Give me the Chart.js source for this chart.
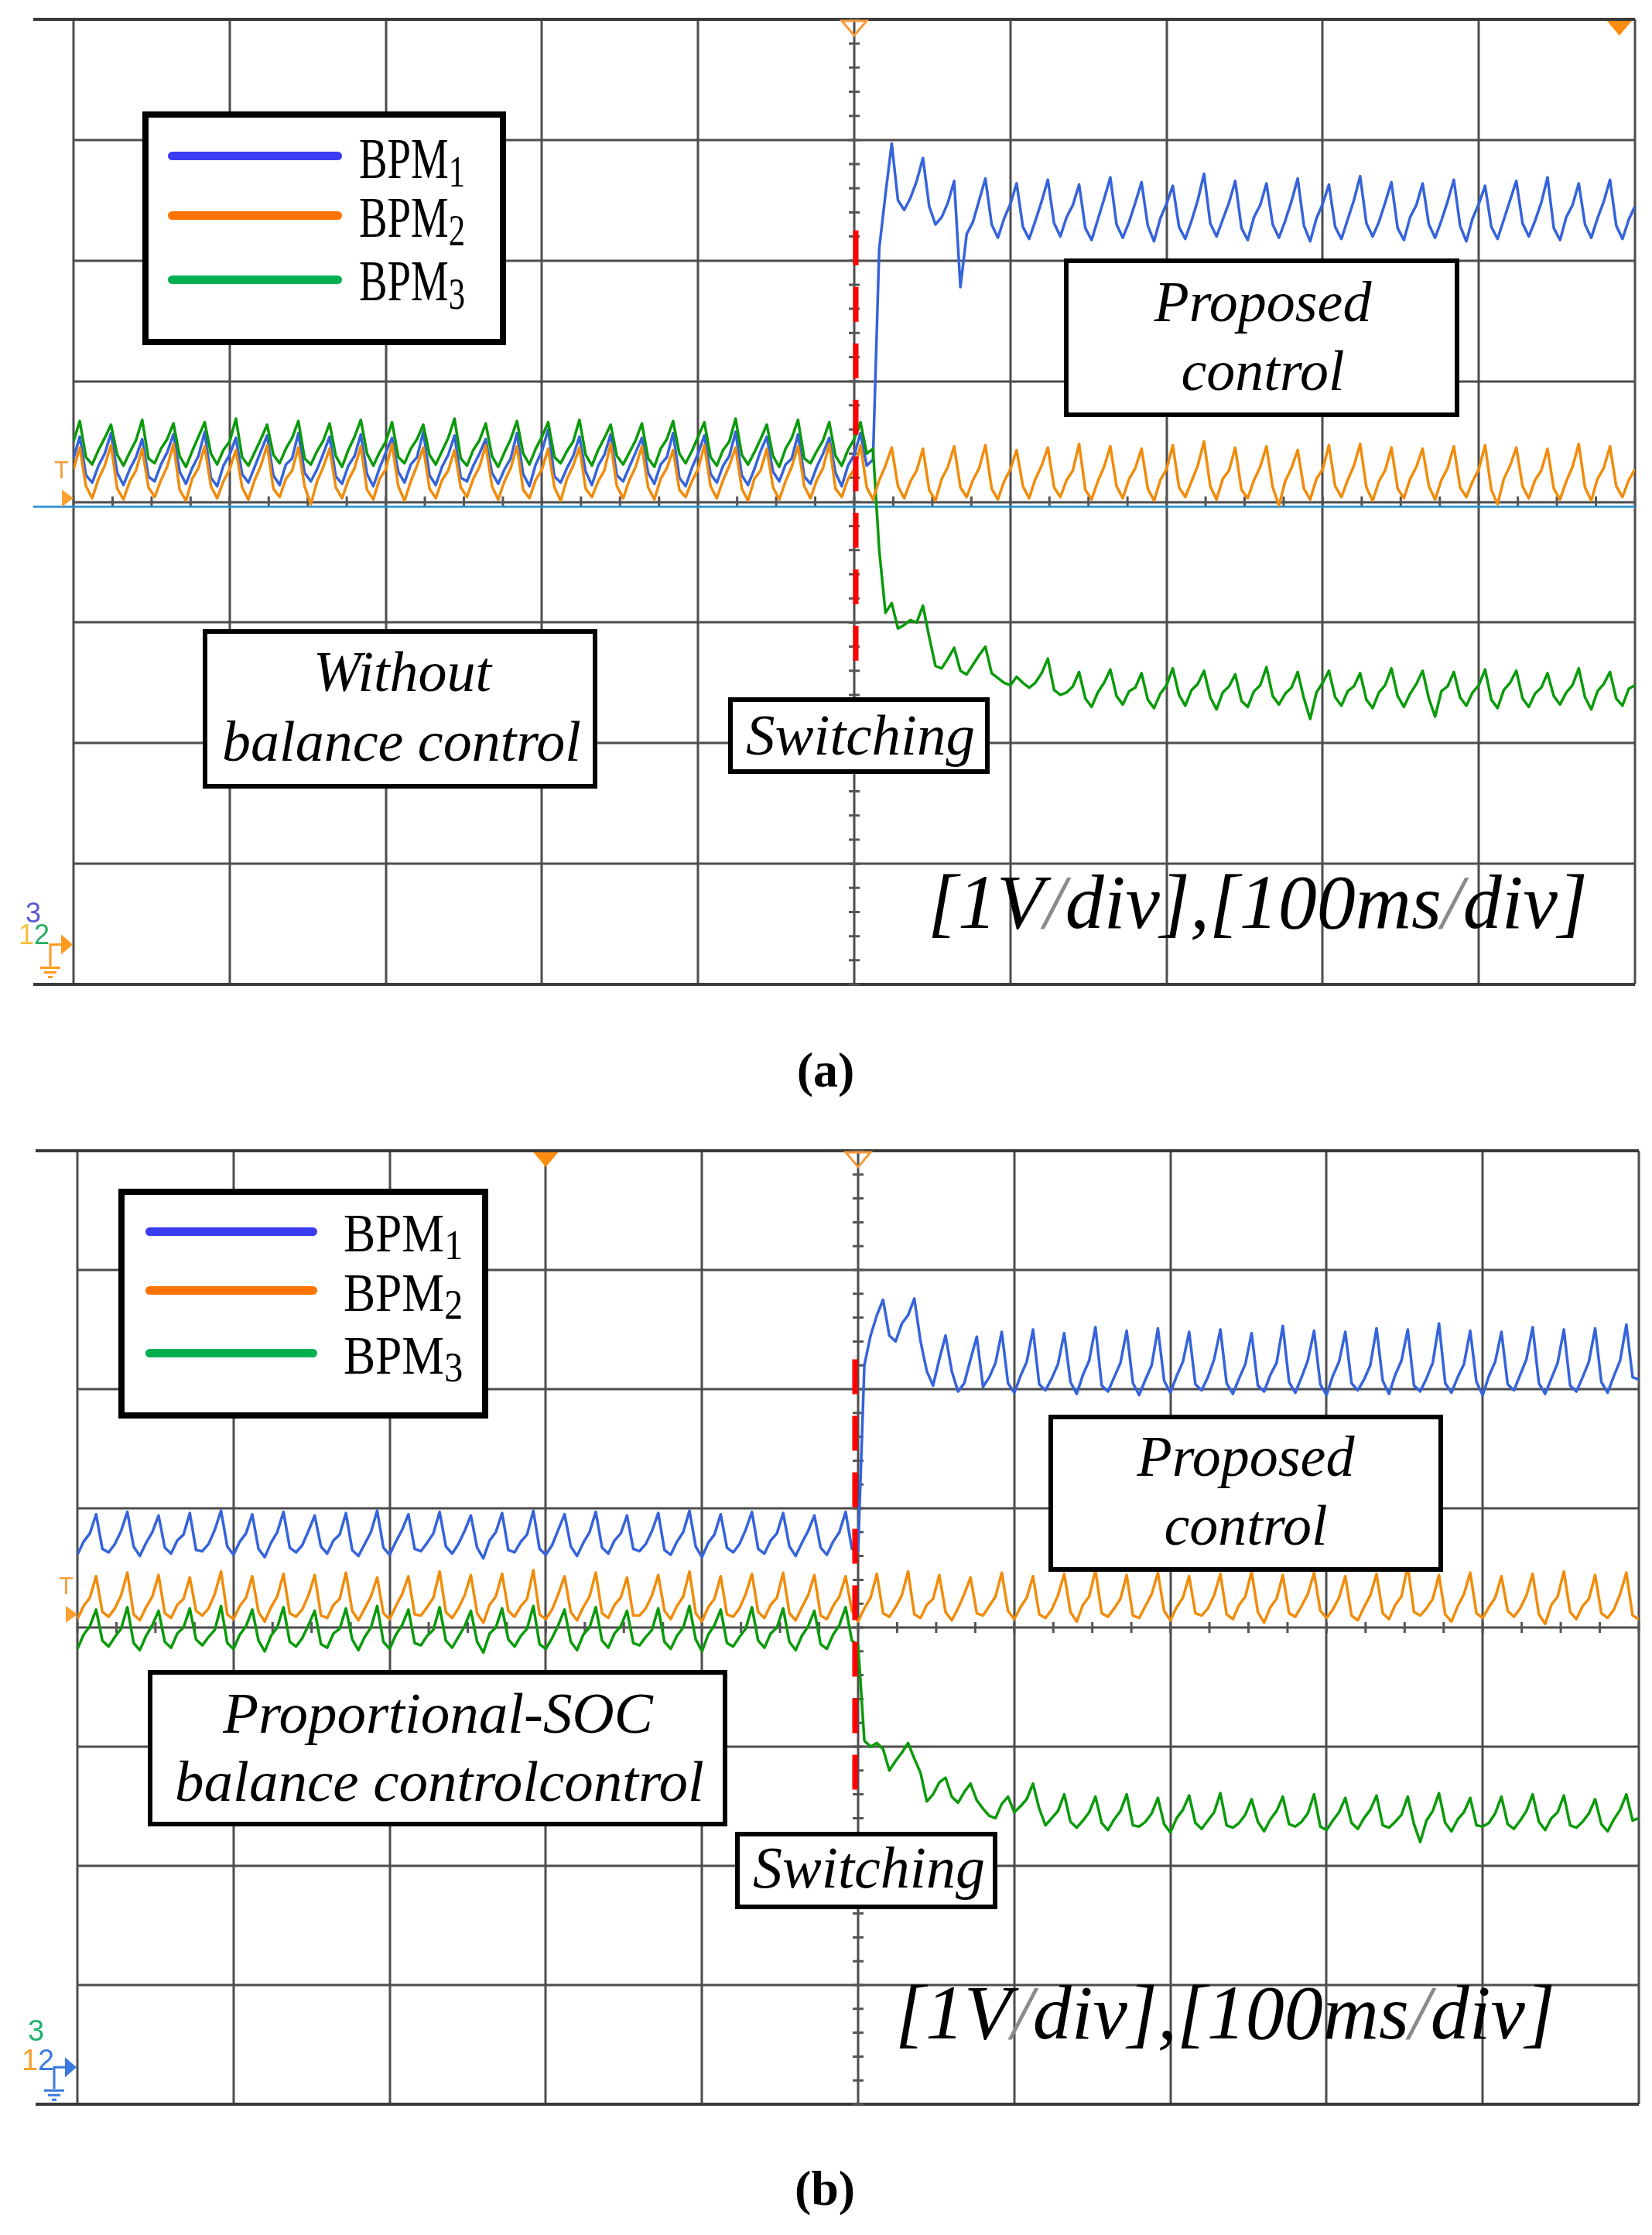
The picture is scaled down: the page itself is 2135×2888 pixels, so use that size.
<!DOCTYPE html>
<html>
<head>
<meta charset="utf-8">
<title>BPM voltage waveforms</title>
<script src="https://cdn.jsdelivr.net/npm/chart.js"></script>
<style>
	html, body { margin:0; padding:0; background:#fff; }
	body { position:relative; width:2135px; height:2888px; overflow:hidden; font-family:"Liberation Serif", "Times New Roman", serif; }
	.panel { position:absolute; left:0; }
	.box { position:absolute; box-sizing:border-box; border:6px solid #000; background:#fff; }
	.swatch { position:absolute; height:11px; border-radius:6px; }
	.txt { position:absolute; white-space:nowrap; line-height:1; color:#000; }
	.txt sub { line-height:0; }
	.sl { color:#8a8a8a; }
</style>
</head>
<body>
<div class="panel" style="top:0px"><canvas id="scopeA" width="2135" height="1330"></canvas></div>
<div class="panel" style="top:1440px"><canvas id="scopeB" width="2135" height="1330"></canvas></div>
<script>
//data

//time base: one sample every 4 ms, 0..1000 ms (10 div x 100 ms)
const sampleStepMs = 4;
const gridMs = [0,100,200,300,400,500,600,700,800,900,1000];
const gridVolts = [-4,-3,-2,-1,0,1,2,3,4];
const switchMs = 500;
const switchSpan = [2.25, -1.4]; //red dashed marker, volts
const seriesNames = ['BPM1','BPM2','BPM3'];

//(a) without balance control -> proposed control, volts (1 V/div)
const aBpm1 = [
	0.36,0.54,0.22,0.16,0.30, 0.40,0.57,0.24,0.14,0.27,
	0.37,0.52,0.21,0.17,0.31, 0.41,0.56,0.25,0.15,0.28,
	0.38,0.58,0.20,0.13,0.30, 0.39,0.53,0.23,0.16,0.29,
	0.42,0.55,0.22,0.14,0.31, 0.36,0.57,0.24,0.17,0.27,
	0.40,0.54,0.21,0.15,0.30, 0.38,0.56,0.23,0.13,0.28,
	0.41,0.53,0.25,0.16,0.31, 0.37,0.58,0.22,0.14,0.29,
	0.39,0.55,0.20,0.17,0.30, 0.40,0.52,0.24,0.15,0.27,
	0.36,0.57,0.23,0.13,0.31, 0.42,0.60,0.21,0.16,0.28,
	0.38,0.54,0.25,0.14,0.30, 0.39,0.56,0.22,0.17,0.29,
	0.41,0.53,0.24,0.15,0.31, 0.37,0.57,0.20,0.13,0.28,
	0.40,0.55,0.23,0.16,0.30, 0.38,0.58,0.22,0.14,0.27,
	0.42,0.54,0.25,0.17,0.31, 0.36,0.56,0.21,0.15,0.29,
	0.40,0.53,0.24,0.13,0.30, 0.39,0.57,0.30,0.35,2.10,
	2.55,2.97,2.50,2.42,2.52, 2.66,2.85,2.45,2.30,2.36,
	2.48,2.66,1.78,2.22,2.32, 2.50,2.68,2.30,2.19,2.35,
	2.47,2.64,2.28,2.18,2.33, 2.49,2.67,2.31,2.20,2.36,
	2.46,2.63,2.27,2.17,2.34, 2.51,2.69,2.30,2.19,2.32,
	2.48,2.65,2.29,2.16,2.35, 2.47,2.62,2.28,2.18,2.33,
	2.50,2.72,2.31,2.20,2.34, 2.48,2.66,2.27,2.17,2.36,
	2.46,2.64,2.30,2.19,2.33, 2.49,2.68,2.29,2.16,2.35,
	2.47,2.63,2.28,2.18,2.34, 2.50,2.70,2.31,2.20,2.32,
	2.48,2.65,2.27,2.17,2.36, 2.46,2.64,2.30,2.19,2.33,
	2.49,2.67,2.29,2.16,2.35, 2.47,2.62,2.28,2.18,2.34,
	2.50,2.66,2.31,2.20,2.33, 2.48,2.69,2.27,2.17,2.36,
	2.46,2.64,2.30,2.19,2.35, 2.49,2.67,2.29,2.18,2.34,
	2.45
];
const aBpm2 = [
	0.27,0.45,0.13,0.03,0.19, 0.30,0.47,0.11,0.02,0.17,
	0.26,0.44,0.12,0.04,0.18, 0.29,0.48,0.10,0.01,0.19,
	0.28,0.46,0.13,0.03,0.17, 0.27,0.43,0.12,0.02,0.18,
	0.30,0.47,0.11,0.04,0.19, 0.26,0.45,0.13,-0.02,0.17,
	0.29,0.44,0.12,0.03,0.18, 0.28,0.46,0.10,0.02,0.19,
	0.27,0.48,0.13,0.01,0.17, 0.30,0.45,0.11,0.03,0.18,
	0.26,0.43,0.12,0.04,0.19, 0.29,0.47,0.13,0.02,0.17,
	0.28,0.46,0.10,0.03,0.18, 0.27,0.44,0.12,0.01,0.19,
	0.30,0.45,0.11,0.04,0.17, 0.26,0.48,0.13,0.03,0.18,
	0.29,0.46,0.12,0.02,0.19, 0.28,0.43,0.10,0.04,0.17,
	0.27,0.47,0.13,0.03,0.18, 0.30,0.45,0.11,0.01,0.19,
	0.26,0.44,0.12,0.02,0.17, 0.29,0.46,0.13,0.03,0.18,
	0.28,0.48,0.11,0.04,0.19, 0.27,0.47,0.12,0.02,0.18,
	0.30,0.45,0.13,0.03,0.17, 0.26,0.44,0.10,0.01,0.19,
	0.29,0.46,0.12,0.04,0.18, 0.28,0.47,0.11,0.02,0.17,
	0.27,0.43,0.13,0.03,0.19, 0.30,0.45,0.12,0.04,0.18,
	0.26,0.48,0.10,0.02,0.17, 0.29,0.46,0.13,0.03,0.19,
	0.28,0.44,0.11,0.01,0.18, 0.27,0.47,0.12,0.04,0.17,
	0.30,0.50,0.13,0.02,0.19, 0.26,0.45,0.10,0.03,0.18,
	0.29,0.46,0.12,-0.03,0.17, 0.28,0.43,0.11,0.02,0.19,
	0.27,0.47,0.13,0.04,0.18, 0.30,0.48,0.12,0.01,0.17,
	0.26,0.45,0.11,0.03,0.19, 0.29,0.44,0.13,0.02,0.18,
	0.28,0.46,0.12,0.04,0.17, 0.27,0.47,0.10,-0.02,0.19,
	0.30,0.45,0.13,0.03,0.18, 0.26,0.44,0.11,0.02,0.17,
	0.29,0.48,0.12,0.01,0.19, 0.28,0.46,0.13,0.04,0.18,
	0.27
];
const aBpm3 = [
	0.50,0.67,0.37,0.31,0.43, 0.53,0.64,0.39,0.30,0.41,
	0.51,0.68,0.36,0.32,0.44, 0.52,0.65,0.38,0.29,0.42,
	0.54,0.66,0.40,0.31,0.43, 0.50,0.69,0.37,0.30,0.41,
	0.52,0.64,0.39,0.32,0.44, 0.53,0.67,0.36,0.31,0.42,
	0.51,0.65,0.38,0.29,0.43, 0.54,0.68,0.40,0.30,0.41,
	0.50,0.66,0.37,0.32,0.44, 0.52,0.64,0.39,0.31,0.42,
	0.53,0.69,0.36,0.30,0.43, 0.51,0.65,0.38,0.29,0.41,
	0.52,0.67,0.40,0.31,0.44, 0.54,0.66,0.37,0.32,0.42,
	0.50,0.68,0.39,0.30,0.43, 0.53,0.64,0.38,0.31,0.41,
	0.51,0.65,0.36,0.29,0.44, 0.52,0.67,0.40,0.32,0.42,
	0.54,0.66,0.37,0.30,0.43, 0.50,0.69,0.39,0.31,0.41,
	0.52,0.64,0.38,0.29,0.44, 0.53,0.68,0.36,0.32,0.42,
	0.51,0.66,0.38,0.30,0.43, 0.52,0.66,0.40,0.44,-0.40,
	-0.92,-0.84,-1.05,-1.02,-0.98, -1.00,-0.86,-1.12,-1.36,-1.38,
	-1.30,-1.21,-1.40,-1.43,-1.35, -1.27,-1.20,-1.42,-1.46,-1.50,
	-1.52,-1.45,-1.50,-1.54,-1.50, -1.42,-1.30,-1.56,-1.60,-1.58,
	-1.53,-1.41,-1.63,-1.70,-1.58, -1.50,-1.39,-1.61,-1.68,-1.57,
	-1.54,-1.42,-1.64,-1.71,-1.59, -1.52,-1.38,-1.60,-1.69,-1.56,
	-1.51,-1.40,-1.62,-1.72,-1.58, -1.53,-1.43,-1.65,-1.70,-1.57,
	-1.52,-1.37,-1.61,-1.68,-1.59, -1.54,-1.41,-1.63,-1.80,-1.58,
	-1.50,-1.40,-1.62,-1.69,-1.57, -1.53,-1.42,-1.64,-1.71,-1.58,
	-1.52,-1.38,-1.61,-1.70,-1.59, -1.51,-1.40,-1.63,-1.78,-1.57,
	-1.53,-1.41,-1.62,-1.69,-1.58, -1.52,-1.39,-1.64,-1.71,-1.56,
	-1.50,-1.40,-1.63,-1.70,-1.59, -1.54,-1.42,-1.61,-1.68,-1.58,
	-1.52,-1.38,-1.62,-1.72,-1.57, -1.51,-1.41,-1.63,-1.69,-1.55,
	-1.52
];

//(b) proportional-SOC balance control -> proposed control, volts
const bBpm1 = [
	0.61,0.72,0.79,0.95,0.66, 0.63,0.70,0.81,0.97,0.68,
	0.60,0.71,0.80,0.94,0.67, 0.62,0.73,0.78,0.96,0.65,
	0.64,0.70,0.82,0.98,0.68, 0.61,0.72,0.79,0.95,0.66,
	0.59,0.71,0.80,0.97,0.67, 0.63,0.69,0.81,0.94,0.68,
	0.62,0.73,0.78,0.96,0.65, 0.60,0.70,0.80,0.98,0.67,
	0.61,0.72,0.82,0.95,0.66, 0.64,0.71,0.79,0.97,0.68,
	0.62,0.70,0.81,0.94,0.67, 0.58,0.73,0.80,0.96,0.65,
	0.63,0.72,0.78,0.98,0.66, 0.61,0.69,0.82,0.95,0.68,
	0.60,0.71,0.80,0.97,0.67, 0.62,0.73,0.79,0.94,0.66,
	0.64,0.70,0.81,0.96,0.65, 0.61,0.72,0.80,0.98,0.68,
	0.59,0.71,0.78,0.95,0.67, 0.63,0.70,0.82,0.97,0.66,
	0.62,0.73,0.79,0.96,0.68, 0.60,0.71,0.81,0.94,0.67,
	0.61,0.72,0.80,0.97,0.66, 0.64,2.20,2.45,2.62,2.75,
	2.45,2.40,2.55,2.62,2.76, 2.40,2.15,2.03,2.25,2.45,
	2.15,1.98,2.05,2.25,2.44, 2.02,2.10,2.22,2.48,2.05,
	1.97,2.11,2.23,2.50,2.04, 1.99,2.09,2.21,2.47,2.06,
	1.96,2.12,2.24,2.52,2.03, 1.98,2.10,2.22,2.49,2.05,
	1.95,2.08,2.20,2.51,2.07, 1.97,2.11,2.23,2.48,2.04,
	1.99,2.10,2.25,2.50,2.05, 1.96,2.09,2.21,2.47,2.03,
	1.98,2.12,2.22,2.53,2.06, 1.97,2.10,2.24,2.49,2.04,
	1.95,2.11,2.23,2.48,2.05, 1.99,2.08,2.20,2.51,2.07,
	1.96,2.12,2.24,2.50,2.03, 1.98,2.09,2.22,2.55,2.05,
	1.97,2.10,2.21,2.49,2.06, 1.95,2.11,2.23,2.48,2.04,
	1.99,2.12,2.25,2.52,2.05, 1.96,2.09,2.22,2.50,2.03,
	1.98,2.10,2.23,2.51,2.06, 1.97,2.11,2.24,2.54,2.10,
	2.08
];
const bBpm2 = [
	0.07,0.18,0.25,0.43,0.13, 0.09,0.16,0.27,0.46,0.11,
	0.06,0.17,0.26,0.44,0.12, 0.08,0.19,0.24,0.42,0.14,
	0.10,0.16,0.28,0.47,0.11, 0.07,0.18,0.25,0.43,0.13,
	0.05,0.17,0.26,0.45,0.12, 0.09,0.15,0.27,0.44,0.10,
	0.08,0.19,0.24,0.46,0.14, 0.06,0.16,0.26,0.42,0.12,
	0.07,0.18,0.28,0.43,0.11, 0.10,0.17,0.25,0.47,0.13,
	0.08,0.16,0.27,0.44,0.12, 0.04,0.19,0.26,0.45,0.14,
	0.09,0.18,0.24,0.48,0.11, 0.07,0.15,0.28,0.43,0.13,
	0.06,0.17,0.26,0.46,0.12, 0.08,0.19,0.25,0.42,0.10,
	0.10,0.16,0.27,0.44,0.14, 0.07,0.18,0.26,0.47,0.12,
	0.05,0.17,0.24,0.43,0.11, 0.09,0.16,0.28,0.45,0.13,
	0.08,0.19,0.25,0.46,0.12, 0.06,0.17,0.27,0.44,0.10,
	0.07,0.18,0.26,0.43,0.14, 0.05,0.16,0.25,0.45,0.12,
	0.09,0.17,0.27,0.47,0.11, 0.08,0.19,0.24,0.44,0.13,
	0.06,0.16,0.28,0.42,0.12, 0.10,0.18,0.26,0.46,0.14,
	0.07,0.17,0.25,0.43,0.11, 0.08,0.15,0.27,0.45,0.13,
	0.05,0.19,0.26,0.48,0.12, 0.09,0.16,0.24,0.44,0.10,
	0.08,0.18,0.28,0.46,0.14, 0.06,0.17,0.25,0.43,0.12,
	0.10,0.16,0.27,0.45,0.11, 0.07,0.19,0.26,0.47,0.13,
	0.04,0.17,0.24,0.44,0.12, 0.09,0.18,0.28,0.46,0.14,
	0.08,0.15,0.25,0.43,0.10, 0.06,0.17,0.27,0.45,0.12,
	0.07,0.19,0.26,0.52,0.13, 0.10,0.16,0.24,0.44,0.11,
	0.05,0.18,0.28,0.46,0.12, 0.08,0.17,0.25,0.43,0.14,
	0.09,0.16,0.27,0.45,0.11, 0.03,0.19,0.26,0.47,0.13,
	0.07,0.18,0.24,0.44,0.12, 0.08,0.15,0.28,0.46,0.10,
	0.07
];
const bBpm3 = [
	-0.18,-0.06,0.01,0.15,-0.11, -0.16,-0.08,-0.01,0.17,-0.13,
	-0.19,-0.07,0.02,0.14,-0.12, -0.17,-0.05,0.00,0.16,-0.10,
	-0.15,-0.08,-0.02,0.18,-0.13, -0.18,-0.06,0.01,0.15,-0.11,
	-0.20,-0.07,0.00,0.17,-0.12, -0.16,-0.09,0.02,0.14,-0.14,
	-0.17,-0.05,-0.01,0.16,-0.10, -0.19,-0.08,0.00,0.18,-0.12,
	-0.18,-0.06,0.02,0.15,-0.13, -0.15,-0.07,-0.02,0.17,-0.11,
	-0.17,-0.08,0.01,0.14,-0.12, -0.21,-0.05,0.00,0.16,-0.10,
	-0.16,-0.07,-0.01,0.18,-0.14, -0.18,-0.09,0.02,0.15,-0.12,
	-0.19,-0.06,0.00,0.17,-0.11, -0.17,-0.05,0.01,0.14,-0.13,
	-0.15,-0.08,-0.02,0.16,-0.12, -0.18,-0.07,0.00,0.18,-0.10,
	-0.20,-0.06,0.02,0.15,-0.13, -0.16,-0.08,-0.01,0.17,-0.11,
	-0.17,-0.05,0.00,0.16,-0.12, -0.19,-0.07,0.01,0.14,-0.14,
	-0.18,-0.06,0.02,0.17,-0.11, -0.15,-0.95,-1.00,-0.97,-1.02,
	-1.20,-1.12,-1.05,-0.97,-1.10, -1.22,-1.46,-1.40,-1.30,-1.26,
	-1.42,-1.47,-1.38,-1.31,-1.45, -1.52,-1.58,-1.60,-1.48,-1.42,
	-1.55,-1.50,-1.44,-1.31,-1.52, -1.66,-1.60,-1.54,-1.40,-1.63,
	-1.68,-1.62,-1.55,-1.42,-1.64, -1.70,-1.61,-1.54,-1.40,-1.66,
	-1.67,-1.63,-1.56,-1.43,-1.65, -1.72,-1.60,-1.53,-1.41,-1.64,
	-1.69,-1.62,-1.55,-1.39,-1.66, -1.68,-1.64,-1.57,-1.44,-1.63,
	-1.71,-1.61,-1.54,-1.42,-1.65, -1.67,-1.63,-1.56,-1.40,-1.67,
	-1.70,-1.62,-1.55,-1.43,-1.64, -1.69,-1.60,-1.53,-1.41,-1.66,
	-1.68,-1.63,-1.57,-1.42,-1.65, -1.80,-1.62,-1.54,-1.39,-1.64,
	-1.71,-1.61,-1.55,-1.43,-1.66, -1.67,-1.64,-1.56,-1.42,-1.65,
	-1.69,-1.62,-1.54,-1.40,-1.63, -1.70,-1.60,-1.55,-1.41,-1.66,
	-1.68,-1.63,-1.56,-1.44,-1.65, -1.71,-1.61,-1.53,-1.40,-1.62,
	-1.60
];

//colours
const traceColors = ['#3563da', '#f08c0c', '#0a9a0a'];
const legendColors = ['#3b3bf0', '#ff7300', '#00b050'];

/////////////////////////////////////////////////////////
//functions

//turns a list of volts into {x,y} points on the 4 ms time base
function toPoints(values){
	return values.map(function(v, i){ return {x: i * sampleStepMs, y: v}; });
}

//puts a text block on the page, positioned by its baseline
function addText(html, x, base, size, opt){
	opt = opt || {};
	const el = document.createElement('div');
	el.className = 'txt';
	el.innerHTML = html;
	el.style.fontSize = size + 'px';
	el.style.top = (base - 0.8375 * size) + 'px';
	if(opt.italic) el.style.fontStyle = 'italic';
	if(opt.bold) el.style.fontWeight = 'bold';
	if(opt.font) el.style.fontFamily = opt.font;
	if(opt.color) el.style.color = opt.color;
	if(opt.center){
		el.style.left = (x - 700) + 'px';
		el.style.width = '1400px';
		el.style.textAlign = 'center';
		el.style.transformOrigin = '50% 0';
	}else{
		el.style.left = x + 'px';
		el.style.transformOrigin = '0 0';
	}
	if(opt.sx) el.style.transform = 'scaleX(' + opt.sx + ')';
	document.body.appendChild(el);
	return el;
}

//white box with a black border
function addBox(x, y, w, h, border){
	const el = document.createElement('div');
	el.className = 'box';
	el.style.left = x + 'px';
	el.style.top = y + 'px';
	el.style.width = w + 'px';
	el.style.height = h + 'px';
	el.style.borderWidth = border + 'px';
	document.body.appendChild(el);
}

//legend: three thick coloured strokes and BPM labels
function addLegend(box, lineX, lineW, lineYs, textX, bases, size, sx, subDrop){
	addBox(box[0], box[1], box[2], box[3], 8);
	for(let i = 0; i < seriesNames.length; i++){
		const sw = document.createElement('div');
		sw.className = 'swatch';
		sw.style.left = lineX + 'px';
		sw.style.top = (lineYs[i] - 5.5) + 'px';
		sw.style.width = lineW + 'px';
		sw.style.background = legendColors[i];
		document.body.appendChild(sw);
		const name = seriesNames[i];
		addText(name.slice(0, 3) + '<sub style="font-size:0.78em;vertical-align:-' + subDrop + 'px">' + name.slice(3) + '</sub>',
			textX, bases[i], size, {sx: sx});
	}
}

//scope furniture: grid, frame, centre ticks, markers
const scopePlugin = {
	id: 'scope',
	beforeDatasetsDraw(chart, args, o){
		const ctx = chart.ctx, a = chart.chartArea, x = chart.scales.x, y = chart.scales.y;
		ctx.save();
		ctx.strokeStyle = '#4d4d4d';
		ctx.lineWidth = 3;
		ctx.beginPath();
		gridMs.forEach(function(t){
			const px = Math.round(x.getPixelForValue(t));
			ctx.moveTo(px, a.top); ctx.lineTo(px, a.bottom);
		});
		gridVolts.forEach(function(v){
			const py = Math.round(y.getPixelForValue(v));
			ctx.moveTo(a.left, py); ctx.lineTo(a.right, py);
		});
		ctx.stroke();

		//top and bottom frame run out into the left margin
		ctx.strokeStyle = '#3a3a3a';
		ctx.lineWidth = 4;
		ctx.beginPath();
		ctx.moveTo(o.frameLeft, a.top); ctx.lineTo(a.right, a.top);
		ctx.moveTo(o.frameLeft, a.bottom); ctx.lineTo(a.right, a.bottom);
		ctx.stroke();

		//minor ticks on the centre axes (5 per volt div, 4 per time div)
		const cx = x.getPixelForValue(switchMs), cy = y.getPixelForValue(0);
		ctx.strokeStyle = '#555';
		ctx.lineWidth = 3;
		ctx.beginPath();
		for(let k = -20; k <= 20; k++){
			const py = y.getPixelForValue(k / 5);
			ctx.moveTo(cx - 7, py); ctx.lineTo(cx + 7, py);
		}
		for(let k = 0; k <= 40; k++){
			const px = x.getPixelForValue(k * 25);
			ctx.moveTo(px, cy - 7); ctx.lineTo(px, cy + 7);
		}
		ctx.stroke();

		//channel reference line
		if(o.refVolt !== null){
			const py = y.getPixelForValue(o.refVolt);
			ctx.strokeStyle = '#2a8fd0';
			ctx.lineWidth = 2.5;
			ctx.beginPath();
			ctx.moveTo(o.frameLeft, py); ctx.lineTo(a.right, py);
			ctx.stroke();
		}
		ctx.restore();
	},
	afterDatasetsDraw(chart, args, o){
		const ctx = chart.ctx, a = chart.chartArea, x = chart.scales.x, y = chart.scales.y;
		ctx.save();

		//red dashed switching instant
		ctx.strokeStyle = '#ff0000';
		ctx.lineWidth = 7;
		ctx.setLineDash([45, 28]);
		ctx.beginPath();
		ctx.moveTo(x.getPixelForValue(o.switchAt), y.getPixelForValue(switchSpan[0]));
		ctx.lineTo(x.getPixelForValue(o.switchAt), y.getPixelForValue(switchSpan[1]));
		ctx.stroke();
		ctx.setLineDash([]);

		//trigger marks on the top edge
		o.topMarks.forEach(function(m){
			const px = x.getPixelForValue(m.t);
			ctx.beginPath();
			ctx.moveTo(px - 16, a.top + 2); ctx.lineTo(px + 16, a.top + 2); ctx.lineTo(px, a.top + 21);
			ctx.closePath();
			if(m.hollow){
				ctx.strokeStyle = '#f59a3a'; ctx.lineWidth = 3; ctx.stroke();
			}else{
				ctx.fillStyle = '#ff8c10'; ctx.fill();
			}
		});

		//trigger level arrow on the left edge
		const ly = y.getPixelForValue(o.levelVolt);
		ctx.fillStyle = '#ffa030';
		ctx.beginPath();
		ctx.moveTo(a.left - 15, ly - 11); ctx.lineTo(a.left, ly); ctx.lineTo(a.left - 15, ly + 11);
		ctx.closePath(); ctx.fill();

		//ground marker
		const gy = y.getPixelForValue(o.groundVolt), gx = a.left;
		ctx.fillStyle = o.groundColor; ctx.strokeStyle = o.groundColor; ctx.lineWidth = 3;
		ctx.beginPath();
		ctx.moveTo(gx - 16, gy - 13); ctx.lineTo(gx - 1, gy); ctx.lineTo(gx - 16, gy + 13);
		ctx.closePath(); ctx.fill();
		ctx.beginPath();
		ctx.moveTo(gx - 16, gy); ctx.lineTo(gx - 30, gy); ctx.lineTo(gx - 30, gy + 28);
		ctx.moveTo(gx - 43, gy + 30); ctx.lineTo(gx - 17, gy + 30);
		ctx.moveTo(gx - 38, gy + 36); ctx.lineTo(gx - 22, gy + 36);
		ctx.moveTo(gx - 33, gy + 42); ctx.lineTo(gx - 27, gy + 42);
		ctx.stroke();
		ctx.restore();
	}
};

function makeScope(canvasId, series, orders, pad, furniture){
	const datasets = series.map(function(values, i){
		return {
			label: seriesNames[i],
			data: toPoints(values),
			borderColor: traceColors[i],
			borderWidth: 3.5,
			pointRadius: 0,
			tension: 0,
			borderJoinStyle: 'round',
			order: orders[i]
		};
	});
	return new Chart(document.getElementById(canvasId), {
		type: 'line',
		data: { datasets: datasets },
		options: {
			responsive: false,
			devicePixelRatio: 1,
			animation: false,
			events: [],
			layout: { padding: pad },
			scales: {
				x: { type: 'linear', min: 0, max: 1000, display: false },
				y: { type: 'linear', min: -4, max: 4, display: false }
			},
			plugins: {
				legend: { display: false },
				tooltip: { enabled: false },
				scope: furniture
			}
		},
		plugins: [scopePlugin]
	});
}

///////////////////////////////////////////////////////////////////////////////
//code

//panel (a)
makeScope('scopeA', [aBpm1, aBpm2, aBpm3], [2, 0, 1],
	{left: 95, right: 22, top: 25, bottom: 58},
	{frameLeft: 43, refVolt: -0.04, switchAt: 501, levelVolt: 0.03, groundVolt: -3.67, groundColor: '#ff9a20',
	 topMarks: [{t: 500, hollow: true}, {t: 990, hollow: false}]});

//panel (b)
makeScope('scopeB', [bBpm1, bBpm2, bBpm3], [2, 1, 0],
	{left: 100, right: 17, top: 47, bottom: 51},
	{frameLeft: 46, refVolt: null, switchAt: 498, levelVolt: 0.11, groundVolt: -3.69, groundColor: '#3a7ae0',
	 topMarks: [{t: 300, hollow: false}, {t: 500, hollow: true}]});

//legends
addLegend([184, 144, 470, 302], 217, 225, [201, 278, 361], 464, [230, 306, 388], 74, 0.74, 11);
addLegend([153, 1536, 478, 297], 188, 222, [1591, 1667, 1748], 444, [1618, 1695, 1776], 70, 0.88, 10);

//annotation boxes, panel (a)
addBox(1375, 334, 511, 205, 6);
addText('Proposed', 1632, 415, 74, {italic: true, center: true});
addText('control', 1632, 504, 74, {italic: true, center: true});
addBox(262, 813, 510, 206, 6);
addText('Without', 520, 893, 74, {italic: true, center: true});
addText('balance control', 519, 983, 74, {italic: true, center: true});
addBox(941, 901, 338, 99, 6);
addText('Switching', 1112, 975, 75, {italic: true, center: true});
addText('[1V<span class="sl">/</span>div],[100ms<span class="sl">/</span>div]', 1199, 1200, 100, {italic: true});

//annotation boxes, panel (b)
addBox(1355, 1828, 510, 203, 6);
addText('Proposed', 1610, 1907, 74, {italic: true, center: true});
addText('control', 1610, 1996, 74, {italic: true, center: true});
addBox(191, 2158, 749, 202, 6);
addText('Proportional-SOC', 566, 2239, 75, {italic: true, center: true});
addText('balance controlcontrol', 568, 2327, 75, {italic: true, center: true});
addBox(950, 2367, 339, 100, 6);
addText('Switching', 1123, 2439, 76, {italic: true, center: true});
addText('[1V<span class="sl">/</span>div],[100ms<span class="sl">/</span>div]', 1157, 2635, 100, {italic: true});

//scope channel labels in the left margin
addText('T', 70, 618, 31, {font: '"Liberation Sans", sans-serif', color: '#f5a040'});
addText('3', 33, 1192, 36, {font: '"Liberation Sans", sans-serif', color: '#5a5ad0'});
addText('1', 24, 1220, 36, {font: '"Liberation Sans", sans-serif', color: '#f7c040'});
addText('2', 44, 1220, 36, {font: '"Liberation Sans", sans-serif', color: '#22b060'});
addText('T', 76, 2060, 31, {font: '"Liberation Sans", sans-serif', color: '#f5a040'});
addText('3', 36, 2637, 38, {font: '"Liberation Sans", sans-serif', color: '#20b070'});
addText('1', 28, 2675, 38, {font: '"Liberation Sans", sans-serif', color: '#f5a030'});
addText('2', 49, 2675, 38, {font: '"Liberation Sans", sans-serif', color: '#3a7ae0'});

//sub-figure captions
addText('(a)', 1067, 1405, 64, {bold: true, center: true});
addText('(b)', 1066, 2850, 64, {bold: true, center: true});
</script>
</body>
</html>
